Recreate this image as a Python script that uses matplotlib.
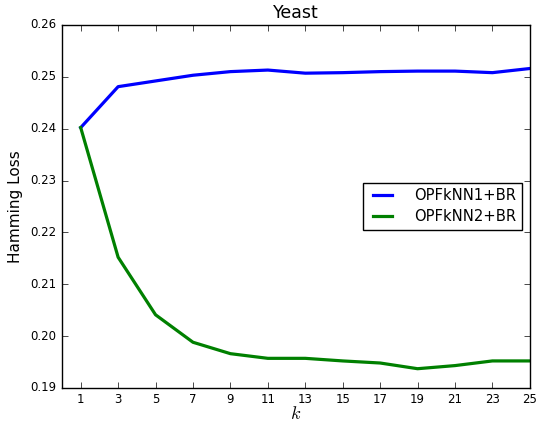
import matplotlib
matplotlib.use("Agg")
import matplotlib.pyplot as plt

k = [1, 3, 5, 7, 9, 11, 13, 15, 17, 19, 21, 23, 25]
opfknn1 = [0.2402, 0.2481, 0.2492, 0.2503, 0.2510, 0.2513, 0.2507, 0.2508,
           0.2510, 0.2511, 0.2511, 0.2508, 0.2516]
opfknn2 = [0.2402, 0.2152, 0.2041, 0.1988, 0.1966, 0.1957, 0.1957, 0.1952,
           0.1948, 0.1937, 0.1943, 0.1952, 0.1952]
yticks = [0.19, 0.20, 0.21, 0.22, 0.23, 0.24, 0.25, 0.26]

plt.style.use('classic')
fig = plt.figure(figsize=(5.39, 4.23), dpi=100, facecolor='white')
ax = fig.add_axes([0.115, 0.083, 0.868, 0.858])

ax.plot(k, opfknn1, color='b', lw=2.3, label='OPFkNN1+BR')
ax.plot(k, opfknn2, color='g', lw=2.3, label='OPFkNN2+BR')

ax.set_xlim(0, 25)
ax.set_ylim(0.19, 0.26)
ax.set_xticks(k)
ax.set_yticks(yticks)
ax.set_yticklabels(['%.2f' % v for v in yticks])
ax.tick_params(labelsize=8.5, direction='in', length=4, top=True, right=True)

ax.set_title('Yeast', fontsize=12.5)
ax.set_xlabel('$k$', fontsize=13, labelpad=-1)
ax.set_ylabel('Hamming Loss', fontsize=11)
ax.legend(loc='center right', fontsize=10.6, bbox_to_anchor=(1.0, 0.5),
          handlelength=1.9, handletextpad=1.2, borderpad=0.4,
          labelspacing=0.4, frameon=True, fancybox=False)

fig.savefig('out.png', dpi=100, facecolor='white')
